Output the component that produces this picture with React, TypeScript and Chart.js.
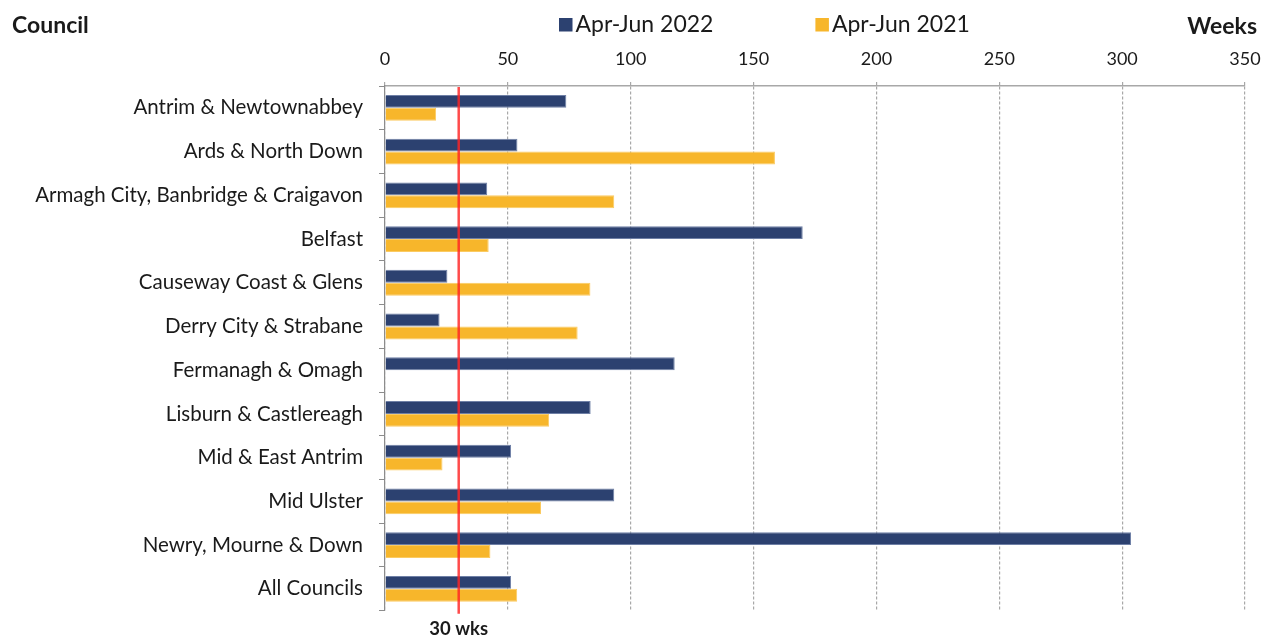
import React, { useEffect, useRef } from "react";
import { Chart, registerables } from "chart.js";

Chart.register(...registerables);

const councils = [
  "Antrim & Newtownabbey",
  "Ards & North Down",
  "Armagh City, Banbridge & Craigavon",
  "Belfast",
  "Causeway Coast & Glens",
  "Derry City & Strabane",
  "Fermanagh & Omagh",
  "Lisburn & Castlereagh",
  "Mid & East Antrim",
  "Mid Ulster",
  "Newry, Mourne & Down",
  "All Councils",
];
const weeks2022 = [73.8, 53.9, 41.6, 170.0, 25.4, 22.2, 117.9, 83.7, 51.3, 93.3, 303.6, 51.3];
const weeks2021 = [20.8, 158.7, 93.3, 42.2, 83.6, 78.4, null, 66.8, 23.4, 63.5, 42.9, 53.8];
const seriesLabels = ["Apr-Jun 2022", "Apr-Jun 2021"];
const seriesColors = ["#2C4170", "#F7B62B"];
const seriesBorders = ["#6f80a6", "#fbcb62"];
const xMin = 0;
const xMax = 350;
const xStep = 50;
const targetWeeks = 30;
const targetLabel = "30 wks";
const yAxisTitle = "Council";
const xAxisTitle = "Weeks";

const FONT = "Lato";
const TEXT = "#1a1a1a";
const GRID = "#a8a8a8";

const overlayPlugin = {
  id: "overlay",
  afterDatasetsDraw(chart: any) {
    const { ctx, chartArea, scales } = chart;
    const x = scales.x;
    const px = x.getPixelForValue(targetWeeks);
    ctx.save();
    // target line
    ctx.strokeStyle = "rgba(255, 35, 35, 0.82)";
    ctx.lineWidth = 2.5;
    ctx.beginPath();
    ctx.moveTo(px, chartArea.top + 1);
    ctx.lineTo(px, chartArea.bottom + 3);
    ctx.stroke();
    // target label
    ctx.fillStyle = TEXT;
    ctx.font = `bold 18.5px ${FONT}`;
    ctx.textAlign = "center";
    ctx.textBaseline = "middle";
    ctx.fillText(targetLabel, px, 629.5);
    // axis titles
    ctx.font = `bold 23px ${FONT}`;
    ctx.textAlign = "left";
    ctx.fillText(yAxisTitle, 12, 25.5);
    ctx.textAlign = "right";
    ctx.fillText(xAxisTitle, 1257, 26.5);
    // legend
    ctx.font = `23px ${FONT}`;
    ctx.textAlign = "left";
    let lx = 559;
    chart.data.datasets.forEach((ds: any) => {
      ctx.fillStyle = ds.backgroundColor;
      ctx.fillRect(lx, 18, 13.5, 13.5);
      ctx.fillStyle = TEXT;
      ctx.fillText(ds.label, lx + 16.5, 24.5);
      lx += 16.5 + ctx.measureText(ds.label).width + 102;
    });
    ctx.restore();
  },
};

export default function App() {
  const ref = useRef<HTMLCanvasElement | null>(null);
  useEffect(() => {
    if (!ref.current) return;
    const chart = new Chart(ref.current, {
      type: "bar",
      data: {
        labels: councils,
        datasets: [
          {
            label: seriesLabels[0],
            data: weeks2022,
            backgroundColor: seriesColors[0],
            borderColor: seriesBorders[0],
            borderWidth: 1,
            categoryPercentage: 0.59,
            barPercentage: 1,
          },
          {
            label: seriesLabels[1],
            data: weeks2021 as any,
            backgroundColor: seriesColors[1],
            borderColor: seriesBorders[1],
            borderWidth: 1,
            categoryPercentage: 0.59,
            barPercentage: 1,
          },
        ],
      },
      options: {
        indexAxis: "y",
        animation: false,
        responsive: true,
        maintainAspectRatio: false,
        layout: { padding: { left: 0, right: 19, top: 0, bottom: 26 } },
        plugins: {
          legend: { display: false },
          tooltip: { enabled: false },
        },
        scales: {
          x: {
            position: "top",
            min: xMin,
            max: xMax,
            afterFit: (s: any) => {
              s.height = 86;
              s.paddingLeft = 0;
              s.paddingRight = 0;
            },
            ticks: {
              stepSize: xStep,
              color: TEXT,
              font: { family: FONT, size: 18 },
              padding: 12,
            },
            grid: {
              color: GRID,
              lineWidth: 1.2,
              tickLength: 4,
              tickColor: GRID,
            },
            border: { display: true, color: GRID, width: 1.5, dash: [3, 2] },
          },
          y: {
            afterFit: (s: any) => {
              s.width = 385;
            },
            ticks: {
              color: TEXT,
              font: { family: FONT, size: 20.5 },
              padding: 16,
            },
            grid: {
              offset: true,
              drawOnChartArea: false,
              tickLength: 6,
              color: "#8c8c8c",
            },
            border: { display: true, color: "#8c8c8c", width: 1.2 },
          },
        },
      },
      plugins: [overlayPlugin],
    } as any);
    return () => chart.destroy();
  }, []);
  return (
    <div style={{ position: "fixed", left: 0, top: 0, width: 1264, height: 639, background: "#fff" }}>
      <canvas ref={ref} />
    </div>
  );
}
